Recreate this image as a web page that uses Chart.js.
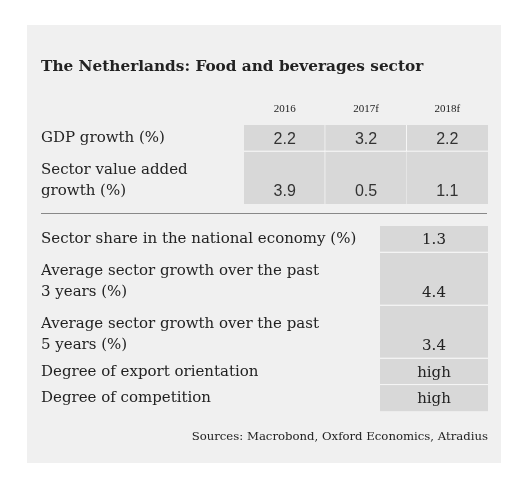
<!DOCTYPE html>
<html lang="en">

<head>
    <meta charset="UTF-8">
    <title>The Netherlands: Food and beverages sector</title>
    <script src="https://cdn.jsdelivr.net/npm/chart.js"></script>
    <style>
        body { margin: 0; background: #fff; width: 518px; height: 480px; position: relative; }
        .panel { position: absolute; left: 27px; top: 25px; width: 474px; height: 438px; background: #f0f0f0; }
        .divider { position: absolute; left: 41px; top: 213px; width: 446px; height: 1px; background: #888; }
        canvas { position: absolute; left: 41px; }
        #topTable { top: 50px; }
        #bottomTable { top: 215px; }
    </style>
</head>

<body>
    <div class="panel"></div>
    <canvas id="topTable" width="447" height="154"></canvas>
    <div class="divider"></div>
    <canvas id="bottomTable" width="447" height="236"></canvas>

    <script>
        // Data
        const years = ['2016', '2017f', '2018f'];
        const topRows = [
            ['GDP growth (%)'],
            ['Sector value added', 'growth (%)']
        ];
        const gdpGrowth = [2.2, 3.2, 2.2];
        const sectorGrowth = [3.9, 0.5, 1.1];

        const bottomRows = [
            ['Sector share in the national economy (%)'],
            ['Average sector growth over the past', '3 years (%)'],
            ['Average sector growth over the past', '5 years (%)'],
            ['Degree of export orientation'],
            ['Degree of competition']
        ];
        const bottomValues = ['1.3', '4.4', '3.4', 'high', 'high'];

        const serif = '"DejaVu Serif", serif';
        const textColor = '#222';
        const cellColor = '#d8d8d8';
        const labelSize = 15;
        const linePitch = 0.8; // spacing of wrapped label lines, in row units

        // row spans in "text line" units, from the number of label lines
        function rowSpans(rows) {
            let start = 0;
            return rows.map(lines => {
                const span = [start, start + lines.length];
                start += lines.length;
                return span;
            });
        }

        // where each label line sits: last line centred in the last unit, earlier lines just above
        function linePositions(rows) {
            const pos = [];
            rowSpans(rows).forEach((span, r) => {
                const n = rows[r].length;
                rows[r].forEach((l, k) => pos.push(span[1] - 0.5 - linePitch * (n - 1 - k)));
            });
            return pos;
        }

        // values are written on the last text line of each cell
        function cellTextPlugin(font, color, textFor) {
            return {
                id: 'cellText',
                afterDatasetsDraw(chart) {
                    const ctx = chart.ctx;
                    const y = chart.scales.y;
                    ctx.save();
                    ctx.font = font;
                    ctx.fillStyle = color;
                    ctx.textAlign = 'center';
                    ctx.textBaseline = 'middle';
                    chart.data.datasets.forEach((ds, i) => {
                        chart.getDatasetMeta(i).data.forEach((bar, j) => {
                            const yy = y.getPixelForValue(ds.data[j][1] - 0.5);
                            ctx.fillText(textFor(i, j), bar.x, yy + 1);
                        });
                    });
                    ctx.restore();
                }
            };
        }

        function labelAxis(rows, width) {
            const lines = rows.flat();
            const pos = linePositions(rows);
            return {
                type: 'linear',
                reverse: true,
                min: 0,
                max: lines.length,
                grid: { display: false },
                border: { display: false },
                afterBuildTicks: scale => {
                    scale.ticks = pos.map(v => ({ value: v }));
                },
                afterFit: scale => {
                    scale.width = width;
                    scale.paddingTop = 0;
                    scale.paddingBottom = 0;
                },
                ticks: {
                    autoSkip: false,
                    crossAlign: 'far',
                    color: textColor,
                    font: { family: serif, size: labelSize },
                    callback: (v, i) => lines[i]
                }
            };
        }

        function cellBorder(lastCol, lastRow) {
            return ctx => ({
                top: 0,
                left: 0,
                right: ctx.dataIndex < lastCol ? 1 : 0,
                bottom: ctx.datasetIndex < lastRow ? 1 : 0
            });
        }

        // Top table: GDP and sector growth per year
        const topSpans = rowSpans(topRows);
        const topData = [gdpGrowth, sectorGrowth];
        new Chart(document.getElementById('topTable'), {
            type: 'bar',
            data: {
                labels: years,
                datasets: topSpans.map((span, i) => ({
                    label: topRows[i].join(' '),
                    data: years.map(() => span),
                    backgroundColor: cellColor,
                    borderColor: '#fff',
                    borderSkipped: false,
                    borderWidth: cellBorder(years.length - 1, topRows.length - 1),
                    barPercentage: 1,
                    categoryPercentage: 1,
                    grouped: false
                }))
            },
            options: {
                responsive: false,
                animation: false,
                layout: { padding: 0 },
                plugins: {
                    legend: { display: false },
                    tooltip: { enabled: false },
                    title: {
                        display: true,
                        text: 'The Netherlands: Food and beverages sector',
                        align: 'start',
                        color: textColor,
                        font: { family: serif, size: 15.3, weight: 'bold', lineHeight: 1.2 },
                        padding: { top: 8, bottom: 0 }
                    }
                },
                scales: {
                    x: {
                        position: 'top',
                        grid: { display: false },
                        border: { display: false },
                        afterFit: scale => {
                            scale.height = 75 - 8 - 18.4;
                            scale.paddingLeft = 0;
                            scale.paddingRight = 0;
                        },
                        ticks: {
                            maxRotation: 0,
                            padding: 1,
                            color: textColor,
                            font: { family: '"Liberation Serif", serif', size: 11 }
                        }
                    },
                    y: labelAxis(topRows, 203)
                }
            },
            plugins: [cellTextPlugin('16px "Liberation Sans", Arial, sans-serif', '#333',
                (i, j) => topData[i][j].toFixed(1))]
        });

        // Bottom table: sector indicators
        const bottomSpans = rowSpans(bottomRows);
        new Chart(document.getElementById('bottomTable'), {
            type: 'bar',
            data: {
                labels: ['value'],
                datasets: bottomSpans.map((span, i) => ({
                    label: bottomRows[i].join(' '),
                    data: [span],
                    backgroundColor: cellColor,
                    borderColor: '#fff',
                    borderSkipped: false,
                    borderWidth: cellBorder(0, bottomRows.length - 1),
                    barPercentage: 1,
                    categoryPercentage: 1,
                    grouped: false
                }))
            },
            options: {
                responsive: false,
                animation: false,
                layout: { padding: { top: 11 } },
                plugins: {
                    legend: { display: false },
                    tooltip: { enabled: false },
                    subtitle: {
                        display: true,
                        position: 'bottom',
                        align: 'end',
                        text: 'Sources: Macrobond, Oxford Economics, Atradius',
                        color: textColor,
                        font: { family: serif, size: 11.7, lineHeight: 1.2 },
                        padding: { top: 19, bottom: 6.6 }
                    }
                },
                scales: {
                    x: { display: false },
                    y: labelAxis(bottomRows, 339)
                }
            },
            plugins: [cellTextPlugin(labelSize + 'px ' + serif, textColor, (i) => bottomValues[i])]
        });
    </script>
</body>

</html>
